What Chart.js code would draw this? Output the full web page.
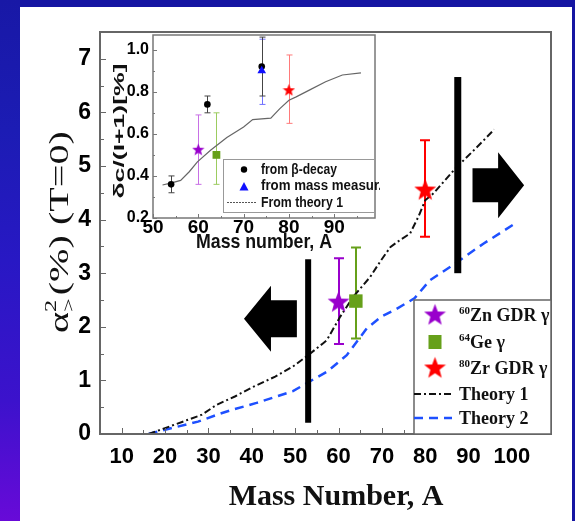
<!DOCTYPE html>
<html>
<head>
<meta charset="utf-8">
<script src="https://cdn.jsdelivr.net/npm/chart.js@4.4.1/dist/chart.umd.min.js"></script>
<style>
  body { margin: 0; width: 575px; height: 521px; overflow: hidden; background: #1515a2; position: relative; }
  #edge { position: absolute; left: 0; top: 0; width: 20px; height: 521px;
          background: linear-gradient(to bottom, #1818a6 0%, #1c1cb4 25%, #2818c4 50%, #3c12cc 77%, #680ad8 100%); }
  #panel { position: absolute; left: 20px; top: 7px; width: 552px; height: 514px; background: #fff; }
  #main { position: absolute; left: 0; top: 0; }
  #inset { position: absolute; left: 102px; top: 33px; }
</style>
</head>
<body>
<div id="edge"></div>
<div id="panel"></div>
<canvas id="main" width="575" height="521"></canvas>
<canvas id="inset" width="278" height="220"></canvas>
<script>
// ---- main panel: isospin mixing vs mass number ----
var massTicks = [10, 20, 30, 40, 50, 60, 70, 80, 90, 100];
var alphaTicks = [0, 1, 2, 3, 4, 5, 6, 7];

var theory1A = [16.2, 20, 25.1, 28.5, 31.8, 36.1, 40.3, 45.4, 49.5, 53, 56.4, 57.3, 60.4, 63.4, 67.3, 69.8, 72, 74.2, 76.5, 78.4, 80, 81.9, 86.9, 91.9, 95.9];
var theory1Val = [0, 0.11, 0.26, 0.36, 0.54, 0.70, 0.88, 1.07, 1.26, 1.47, 1.69, 1.75, 2.19, 2.56, 2.93, 3.24, 3.49, 3.62, 3.74, 4.05, 4.36, 4.49, 4.95, 5.35, 5.68];

var theory2A = [16.2, 20, 27.6, 32.7, 35, 41.1, 49.5, 52.7, 57.3, 61.9, 66.5, 69.9, 73.3, 77.5, 81.1, 85.8, 93.4, 100.4];
var theory2Val = [0, 0.08, 0.23, 0.38, 0.44, 0.58, 0.80, 0.95, 1.16, 1.47, 1.97, 2.19, 2.33, 2.53, 2.87, 3.12, 3.55, 3.91];

// measured points: 60Zn, 64Ge, 80Zr
var expA = [60, 64, 80];
var expVal = [2.48, 2.48, 4.57];
var expLo = [1.68, 1.78, 3.68];
var expHi = [3.28, 3.48, 5.48];

// ---- inset: delta_c / (I+1) ----
var insetMassTicks = [50, 60, 70, 80, 90];
var insetDeltaTicks = [0.2, 0.4, 0.6, 0.8, 1.0];

var insetTheoryA = [52.1, 54.3, 56.1, 58, 59.8, 62.7, 66.3, 70, 72, 76, 78, 80, 81.6, 84.5, 88.1, 91.8, 95.9];
var insetTheoryVal = [0.357, 0.368, 0.379, 0.42, 0.467, 0.522, 0.583, 0.633, 0.668, 0.675, 0.72, 0.76, 0.776, 0.808, 0.848, 0.88, 0.89];

var betaA = [54, 62, 74];
var betaVal = [0.36, 0.74, 0.92];
var betaLo = [0.32, 0.70, 0.78];
var betaHi = [0.40, 0.78, 1.06];

var massMeasA = [74];
var massMeasVal = [0.90];
var massMeasLo = [0.74];
var massMeasHi = [1.05];

var insetExpA = [60, 64, 80];
var insetExpVal = [0.527, 0.50, 0.81];
var insetExpLo = [0.36, 0.36, 0.65];
var insetExpHi = [0.69, 0.70, 0.975];

var PURPLE = '#9900cc', GREEN = '#66a01a', RED = '#ff0000', BLUE = '#1e50ff';
var SANS = "'Liberation Sans', Arial, sans-serif";
var SERIF = "'Liberation Serif', 'Times New Roman', serif";

function pts(xs, ys) {
    return xs.map(function (x, i) { return {x: x, y: ys[i]}; });
}

function starImage(color, size) {
    var c = document.createElement('canvas');
    c.width = c.height = size;
    var g = c.getContext('2d');
    var R = size / 2, r = R * 0.42;
    g.beginPath();
    for (var i = 0; i < 10; i++) {
        var ang = -Math.PI / 2 + i * Math.PI / 5;
        var rad = i % 2 ? r : R;
        g.lineTo(R + rad * Math.cos(ang), R + size * 0.06 + rad * Math.sin(ang));
    }
    g.closePath();
    g.fillStyle = color;
    g.fill();
    return c;
}

var bigPurpleStar = starImage(PURPLE, 23);
var bigRedStar = starImage(RED, 23);
var smallPurpleStar = starImage(PURPLE, 13);
var smallRedStar = starImage(RED, 13);

// squeeze or stretch a string so it spans the given width
function fillFitted(ctx, text, x, y, width) {
    var w = ctx.measureText(text).width;
    ctx.save();
    ctx.translate(x, y);
    ctx.scale(width / w, 1);
    ctx.fillText(text, 0, 0);
    ctx.restore();
}

// keep the plot area exactly where the layout padding puts it
function noPad(s) {
    s.paddingTop = s.paddingBottom = s.paddingLeft = s.paddingRight = 0;
}

// vertical error bars for any dataset carrying errLo / errHi
var errorBars = {
    id: 'errorBars',
    beforeDatasetsDraw: function (chart) {
        var ctx = chart.ctx, x = chart.scales.x, y = chart.scales.y;
        chart.data.datasets.forEach(function (ds) {
            if (!ds.errLo) return;
            ctx.save();
            ctx.strokeStyle = ds.errColor;
            ctx.lineWidth = ds.errWidth;
            ds.data.forEach(function (p, j) {
                var px = Math.round(x.getPixelForValue(p.x)) + (ds.errWidth % 2 ? 0.5 : 0);
                var top = y.getPixelForValue(ds.errHi[j]);
                var bot = y.getPixelForValue(ds.errLo[j]);
                ctx.beginPath();
                ctx.moveTo(px, top); ctx.lineTo(px, bot);
                ctx.moveTo(px - ds.capHalf, top); ctx.lineTo(px + ds.capHalf, top);
                ctx.moveTo(px - ds.capHalf, bot); ctx.lineTo(px + ds.capHalf, bot);
                ctx.stroke();
            });
            ctx.restore();
        });
    }
};

// box frame with inward ticks on the left and bottom sides
function framePlugin(color, width, xMinor, yMinor, majorLen, minorLen) {
    return {
        id: 'frame',
        afterDatasetsDraw: function (chart) {
            var ctx = chart.ctx, a = chart.chartArea, x = chart.scales.x, y = chart.scales.y;
            ctx.save();
            ctx.strokeStyle = color;
            ctx.lineWidth = width;
            ctx.strokeRect(a.left, a.top, a.right - a.left, a.bottom - a.top);
            ctx.lineWidth = 1;
            ctx.beginPath();
            for (var v = Math.ceil(x.min / xMinor) * xMinor; v <= x.max; v += xMinor) {
                var px = Math.round(x.getPixelForValue(v)) + 0.5;
                var major = Math.abs(v / (2 * xMinor) - Math.round(v / (2 * xMinor))) < 1e-6;
                ctx.moveTo(px, a.bottom);
                ctx.lineTo(px, a.bottom - (major ? majorLen : minorLen));
            }
            for (var w = Math.ceil(y.min / yMinor - 1e-6) * yMinor; w <= y.max + 1e-6; w += yMinor) {
                var py = Math.round(y.getPixelForValue(w)) + 0.5;
                var maj = Math.abs(w / (2 * yMinor) - Math.round(w / (2 * yMinor))) < 1e-6;
                ctx.moveTo(a.left, py);
                ctx.lineTo(a.left + (maj ? majorLen : minorLen), py);
            }
            ctx.stroke();
            ctx.restore();
        }
    };
}

// text runs with optional raised / lowered pieces; stacked pieces don't advance the pen
function partsWidth(ctx, parts) {
    var w = 0;
    parts.forEach(function (p) {
        ctx.font = p.font;
        if (!p.stack) w += ctx.measureText(p.t).width + (p.dx || 0);
    });
    return w;
}

function drawParts(ctx, parts, x, y) {
    parts.forEach(function (p) {
        ctx.font = p.font;
        ctx.fillText(p.t, x + (p.dx || 0), y + (p.dy || 0));
        if (!p.stack) x += ctx.measureText(p.t).width + (p.dx || 0);
    });
    return x;
}

function drawArrow(ctx, tipX, tailX, cy, headLen, headHalf, shaftHalf) {
    var dir = tailX > tipX ? 1 : -1;
    var back = tipX + dir * headLen;
    ctx.beginPath();
    ctx.moveTo(tipX, cy);
    ctx.lineTo(back, cy - headHalf);
    ctx.lineTo(back, cy - shaftHalf);
    ctx.lineTo(tailX, cy - shaftHalf);
    ctx.lineTo(tailX, cy + shaftHalf);
    ctx.lineTo(back, cy + shaftHalf);
    ctx.lineTo(back, cy + headHalf);
    ctx.closePath();
    ctx.fill();
}

// dividing bars, direction arrows, titles and the legend box of the main panel
var mainDecor = {
    id: 'mainDecor',
    afterDraw: function (chart) {
        var ctx = chart.ctx, a = chart.chartArea, x = chart.scales.x, y = chart.scales.y;
        ctx.save();
        ctx.fillStyle = '#000';
        // dividers at A = 53 and A = 87.5
        ctx.fillRect(x.getPixelForValue(53) - 3, y.getPixelForValue(3.26), 6, y.getPixelForValue(0.21) - y.getPixelForValue(3.26));
        ctx.fillRect(x.getPixelForValue(87.5) - 3.5, y.getPixelForValue(6.66), 7, y.getPixelForValue(3.0) - y.getPixelForValue(6.66));
        drawArrow(ctx, x.getPixelForValue(38.2), x.getPixelForValue(50.4), y.getPixelForValue(2.15), 27, 33, 18.5);
        drawArrow(ctx, x.getPixelForValue(102.8), x.getPixelForValue(90.9), y.getPixelForValue(4.64), 26, 33, 17);

        // legend
        var lx = a.right - 137, ly = a.bottom - 134;
        ctx.fillStyle = '#fff';
        ctx.fillRect(lx, ly, a.right - lx, a.bottom - ly);
        ctx.strokeStyle = '#666';
        ctx.lineWidth = 1.5;
        ctx.strokeRect(lx, ly, a.right - lx, a.bottom - ly);
        ctx.drawImage(bigPurpleStar, lx + 21 - 11.5, ly + 15 - 12.5);
        ctx.fillStyle = GREEN;
        ctx.fillRect(lx + 21 - 6.5, ly + 42 - 7, 13, 14);
        ctx.drawImage(bigRedStar, lx + 21 - 11.5, ly + 68 - 12.5);
        ctx.lineWidth = 2;
        ctx.strokeStyle = '#111';
        ctx.setLineDash([7, 3, 2, 3]);
        ctx.beginPath(); ctx.moveTo(lx, ly + 94); ctx.lineTo(lx + 38, ly + 94); ctx.stroke();
        ctx.strokeStyle = BLUE;
        ctx.lineWidth = 2.5;
        ctx.setLineDash([9, 6]);
        ctx.beginPath(); ctx.moveTo(lx, ly + 118); ctx.lineTo(lx + 38, ly + 118); ctx.stroke();
        ctx.setLineDash([]);

        ctx.fillStyle = '#111';
        ctx.textBaseline = 'alphabetic';
        ctx.textAlign = 'left';
        var big = 'bold 18px ' + SERIF, small = 'bold 11px ' + SERIF;
        var tx = lx + 45;
        drawParts(ctx, [{t: '60', font: small, dy: -7}, {t: 'Zn GDR \u03b3', font: big}], tx, ly + 21);
        drawParts(ctx, [{t: '64', font: small, dy: -7}, {t: 'Ge \u03b3', font: big}], tx, ly + 48);
        drawParts(ctx, [{t: '80', font: small, dy: -7}, {t: 'Zr GDR \u03b3', font: big}], tx, ly + 74);
        ctx.font = big;
        ctx.fillText('Theory 1', tx, ly + 100);
        ctx.fillText('Theory 2', tx, ly + 124);

        // axis titles
        ctx.font = 'bold 30px ' + SERIF;
        ctx.textAlign = 'center';
        ctx.fillText('Mass Number, A', 336, 505);

        ctx.translate(68, 232);
        ctx.rotate(-Math.PI / 2);
        ctx.textAlign = 'left';
        var f = '28px ' + SERIF, fs = '17px ' + SERIF;
        var parts = [
            {t: '\u03b1', font: f},
            {t: '2', font: fs, dy: -12, stack: true},
            {t: '>', font: fs, dy: 6},
            {t: '(%) (T=0)', font: f, dx: 2}
        ];
        var total = partsWidth(ctx, parts);
        ctx.scale(202 / total, 1);
        drawParts(ctx, parts, -total / 2, 0);
        ctx.restore();
    }
};

var tickFontMain = {family: SANS, size: 22, weight: 'bold'};

new Chart(document.getElementById('main'), {
    type: 'scatter',
    data: {
        datasets: [
            {
                label: '80Zr GDR', data: pts(expA.slice(2), expVal.slice(2)),
                pointStyle: bigRedStar, pointRadius: 11,
                errLo: expLo.slice(2), errHi: expHi.slice(2), errColor: RED, errWidth: 2, capHalf: 5
            },
            {
                label: '64Ge', data: pts(expA.slice(1, 2), expVal.slice(1, 2)),
                pointStyle: 'rect', pointRadius: 9.5, backgroundColor: GREEN, borderColor: GREEN, borderWidth: 0,
                errLo: expLo.slice(1, 2), errHi: expHi.slice(1, 2), errColor: GREEN, errWidth: 2, capHalf: 5
            },
            {
                label: '60Zn GDR', data: pts(expA.slice(0, 1), expVal.slice(0, 1)),
                pointStyle: bigPurpleStar, pointRadius: 11,
                errLo: expLo.slice(0, 1), errHi: expHi.slice(0, 1), errColor: PURPLE, errWidth: 2, capHalf: 5
            },
            {
                label: 'Theory 1', data: pts(theory1A, theory1Val), showLine: true, pointRadius: 0,
                borderColor: '#111', borderWidth: 2, borderDash: [7, 3, 2, 3]
            },
            {
                label: 'Theory 2', data: pts(theory2A, theory2Val), showLine: true, pointRadius: 0,
                borderColor: BLUE, borderWidth: 2.5, borderDash: [9, 6]
            }
        ]
    },
    options: {
        responsive: false,
        animation: false,
        devicePixelRatio: 1,
        layout: {autoPadding: false, padding: {top: 32, right: 24, left: 0, bottom: 0}},
        plugins: {legend: {display: false}, tooltip: {enabled: false}},
        scales: {
            x: {
                type: 'linear', min: 5, max: 109,
                grid: {display: false, drawTicks: false}, border: {display: false},
                afterBuildTicks: function (s) { s.ticks = massTicks.map(function (v) { return {value: v}; }); },
                afterFit: function (s) { s.height = 87; noPad(s); },
                ticks: {font: tickFontMain, color: '#000', padding: 10, maxRotation: 0, autoSkip: false}
            },
            y: {
                type: 'linear', min: 0, max: 7.5,
                grid: {display: false, drawTicks: false}, border: {display: false},
                afterBuildTicks: function (s) { s.ticks = alphaTicks.map(function (v) { return {value: v}; }); },
                afterFit: function (s) { s.width = 100; noPad(s); },
                ticks: {font: {family: SANS, size: 23, weight: 'bold'}, color: '#000', padding: 9}
            }
        }
    },
    plugins: [errorBars, framePlugin('#666', 2, 5, 0.5, 6, 4), mainDecor]
});

// legend box and titles of the inset
var insetDecor = {
    id: 'insetDecor',
    afterDraw: function (chart) {
        var ctx = chart.ctx, a = chart.chartArea;
        ctx.save();
        var lx = 121, ly = 126, rx = a.right - 1, by = 179;
        ctx.fillStyle = '#fff';
        ctx.fillRect(lx, ly, rx - lx, by - ly);
        ctx.strokeStyle = '#999';
        ctx.lineWidth = 1;
        ctx.strokeRect(lx + 0.5, ly + 0.5, rx - lx, by - ly);
        ctx.fillStyle = '#000';
        ctx.beginPath(); ctx.arc(142, 136.5, 3.2, 0, Math.PI * 2); ctx.fill();
        ctx.fillStyle = '#1010ff';
        ctx.beginPath(); ctx.moveTo(142, 149); ctx.lineTo(146.5, 157.5); ctx.lineTo(137.5, 157.5); ctx.closePath(); ctx.fill();
        ctx.strokeStyle = '#555';
        ctx.setLineDash([2, 1]);
        ctx.beginPath(); ctx.moveTo(125, 169.5); ctx.lineTo(155, 169.5); ctx.stroke();
        ctx.setLineDash([]);
        ctx.fillStyle = '#111';
        ctx.font = 'bold 14px ' + SANS;
        ctx.textBaseline = 'middle';
        fillFitted(ctx, 'from \u03b2-decay', 159, 137, 76);
        fillFitted(ctx, 'from mass measur.', 159, 153, 121);
        fillFitted(ctx, 'From theory 1', 159, 170, 82);

        ctx.textBaseline = 'alphabetic';
        ctx.textAlign = 'center';
        ctx.font = 'bold 21px ' + SANS;
        fillFitted(ctx, 'Mass number, A', 162, 215, 136);
        ctx.translate(22, 98);
        ctx.rotate(-Math.PI / 2);
        ctx.font = 'bold 15px ' + SANS;
        fillFitted(ctx, '\u03b4c/(I+1)[%]', 0, 0, 135);
        ctx.restore();
    }
};

new Chart(document.getElementById('inset'), {
    type: 'scatter',
    data: {
        datasets: [
            {
                label: 'from mass measur.', data: pts(massMeasA, massMeasVal),
                pointStyle: 'triangle', pointRadius: 5, backgroundColor: '#1010ff', borderColor: '#1010ff', borderWidth: 0,
                errLo: massMeasLo, errHi: massMeasHi, errColor: '#7070ff', errWidth: 1, capHalf: 3
            },
            {
                label: 'from beta-decay', data: pts(betaA, betaVal),
                pointStyle: 'circle', pointRadius: 3.3, backgroundColor: '#000', borderWidth: 0,
                errLo: betaLo, errHi: betaHi, errColor: '#444', errWidth: 1, capHalf: 3
            },
            {
                label: '80Zr', data: pts(insetExpA.slice(2), insetExpVal.slice(2)),
                pointStyle: smallRedStar, pointRadius: 6,
                errLo: insetExpLo.slice(2), errHi: insetExpHi.slice(2), errColor: '#ff7a7a', errWidth: 1, capHalf: 3
            },
            {
                label: '64Ge', data: pts(insetExpA.slice(1, 2), insetExpVal.slice(1, 2)),
                pointStyle: 'rect', pointRadius: 5.5, backgroundColor: GREEN, borderWidth: 0,
                errLo: insetExpLo.slice(1, 2), errHi: insetExpHi.slice(1, 2), errColor: '#9ccc60', errWidth: 1, capHalf: 3
            },
            {
                label: '60Zn', data: pts(insetExpA.slice(0, 1), insetExpVal.slice(0, 1)),
                pointStyle: smallPurpleStar, pointRadius: 6,
                errLo: insetExpLo.slice(0, 1), errHi: insetExpHi.slice(0, 1), errColor: '#c870e6', errWidth: 1, capHalf: 3
            },
            {
                label: 'From theory 1', data: pts(insetTheoryA, insetTheoryVal), showLine: true, pointRadius: 0,
                borderColor: '#666', borderWidth: 1.2
            }
        ]
    },
    options: {
        responsive: false,
        animation: false,
        devicePixelRatio: 1,
        layout: {autoPadding: false, padding: {top: 2, right: 5, left: 0, bottom: 0}},
        plugins: {legend: {display: false}, tooltip: {enabled: false}},
        scales: {
            x: {
                type: 'linear', min: 50, max: 99,
                grid: {display: false, drawTicks: false}, border: {display: false},
                afterBuildTicks: function (s) { s.ticks = insetMassTicks.map(function (v) { return {value: v}; }); },
                afterFit: function (s) { s.height = 35; noPad(s); },
                ticks: {font: {family: SANS, size: 19, weight: 'bold', lineHeight: 1}, color: '#000', padding: 0, maxRotation: 0, autoSkip: false}
            },
            y: {
                type: 'linear', min: 0.2, max: 1.07,
                grid: {display: false, drawTicks: false}, border: {display: false},
                afterBuildTicks: function (s) { s.ticks = insetDeltaTicks.map(function (v) { return {value: v}; }); },
                afterFit: function (s) { s.width = 51; noPad(s); },
                ticks: {font: {family: SANS, size: 16, weight: 'bold'}, color: '#000', padding: 4, callback: function (v) { return v.toFixed(1); }}
            }
        }
    },
    plugins: [errorBars, framePlugin('#777', 1.5, 5, 0.1, 4, 2), insetDecor]
});
</script>
</body>
</html>
